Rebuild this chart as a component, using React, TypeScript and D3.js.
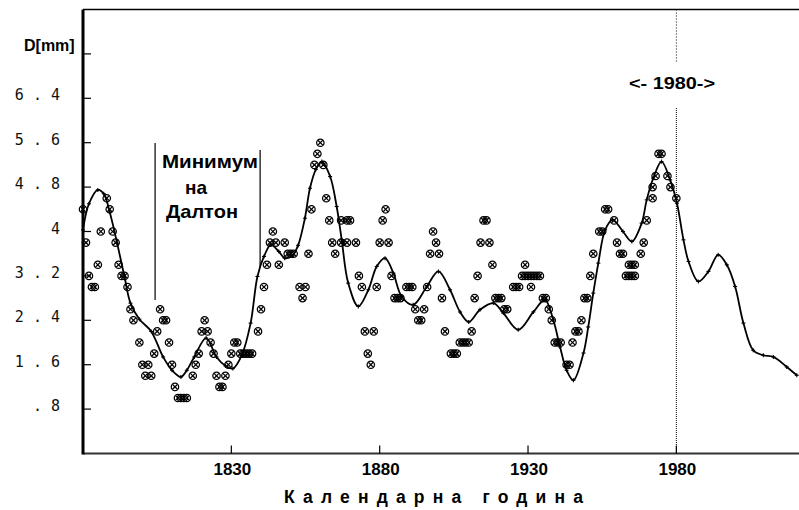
import React from "react";
import * as d3 from "d3";

// ---- data ----
const smoothYears = [1780, 1782, 1785, 1787, 1789, 1791.5, 1794, 1796, 1799, 1803, 1807, 1810, 1813, 1815, 1817.5, 1821.5, 1825, 1828, 1830.5, 1833.5, 1836.5, 1838.8, 1841, 1843.3, 1846, 1848, 1850.5, 1852.5, 1854.8, 1856.5, 1858.5, 1860.5, 1863.3, 1865.5, 1867.2, 1869.4, 1872.8, 1876.2, 1879, 1881.8, 1884.6, 1887.4, 1891.3, 1895.8, 1899.8, 1903.7, 1907.1, 1910, 1913.8, 1918.3, 1921.7, 1926.7, 1931.8, 1935.7, 1938.5, 1940.8, 1943, 1945.3, 1948.7, 1950.3, 1952, 1953.7, 1956, 1958.5, 1962, 1965, 1968.3, 1970, 1972.2, 1975, 1977.9, 1980.2, 1982.4, 1984.1, 1987.4, 1990.8, 1994.1, 1997, 1999.8, 2002.6, 2005.9, 2009.3, 2012.7, 2017.2, 2020.6];
const smoothValues = [4.03, 4.5, 4.75, 4.68, 4.35, 3.79, 3.18, 2.71, 2.42, 2.2, 1.74, 1.5, 1.38, 1.5, 1.74, 2.08, 1.74, 1.58, 1.53, 1.77, 2.35, 3.19, 3.55, 3.76, 3.64, 3.52, 3.56, 3.75, 4.24, 4.78, 5.12, 5.26, 4.99, 4.45, 3.85, 3.07, 2.65, 2.95, 3.37, 3.52, 3.25, 2.83, 2.68, 3.0, 3.28, 2.95, 2.55, 2.37, 2.59, 2.71, 2.53, 2.23, 2.55, 2.77, 2.41, 1.92, 1.5, 1.32, 1.81, 2.28, 2.89, 3.43, 4.03, 4.21, 4.0, 3.82, 4.15, 4.57, 4.96, 5.26, 4.93, 4.51, 3.85, 3.46, 3.1, 3.28, 3.58, 3.4, 3.01, 2.35, 1.86, 1.77, 1.74, 1.56, 1.41];

const dotYears = [1780, 1781, 1782, 1783, 1784, 1785, 1786, 1788, 1789, 1790, 1791, 1792, 1793, 1794, 1795, 1796, 1797, 1799, 1800, 1801, 1802, 1803, 1804, 1805, 1806, 1807, 1808, 1809, 1810, 1811, 1812, 1813, 1814, 1815, 1817, 1818, 1819, 1820, 1821, 1822, 1823, 1824, 1825, 1826, 1827, 1828, 1829, 1830, 1831, 1832, 1833, 1834, 1835, 1836, 1837, 1839, 1840, 1841, 1842, 1843, 1844, 1845, 1846, 1848, 1849, 1850, 1851, 1853, 1854, 1855, 1856, 1857, 1858, 1859, 1860, 1861, 1862, 1863, 1864, 1865, 1867, 1867, 1869, 1869, 1870, 1872, 1873, 1874, 1875, 1876, 1877, 1878, 1879, 1880, 1881, 1882, 1883, 1884, 1885, 1886, 1887, 1889, 1890, 1891, 1892, 1893, 1894, 1895, 1896, 1897, 1898, 1899, 1900, 1901, 1902, 1904, 1905, 1906, 1907, 1908, 1909, 1910, 1911, 1912, 1913, 1914, 1915, 1916, 1917, 1918, 1919, 1920, 1921, 1922, 1923, 1925, 1926, 1927, 1928, 1929, 1929, 1930, 1931, 1931, 1932, 1933, 1934, 1935, 1936, 1937, 1938, 1939, 1940, 1941, 1943, 1944, 1945, 1946, 1947, 1948, 1949, 1950, 1951, 1952, 1954, 1955, 1956, 1957, 1959, 1960, 1961, 1962, 1963, 1964, 1964, 1965, 1965, 1966, 1966, 1968, 1969, 1970, 1972, 1972, 1973, 1974, 1975, 1977, 1978, 1980];
const dotValues = [4.4, 3.8, 3.2, 3.0, 3.0, 3.4, 4.0, 4.6, 4.4, 4.0, 3.8, 3.4, 3.2, 3.2, 3.0, 2.6, 2.4, 2.0, 1.6, 1.4, 1.6, 1.4, 1.8, 2.2, 2.6, 2.4, 2.4, 2.0, 1.6, 1.2, 1.0, 1.0, 1.0, 1.0, 1.4, 1.6, 1.8, 2.2, 2.4, 2.2, 2.0, 1.8, 1.4, 1.2, 1.2, 1.4, 1.6, 1.8, 2.0, 2.0, 1.8, 1.8, 1.8, 1.8, 1.8, 2.2, 2.6, 3.0, 3.4, 3.8, 4.0, 3.8, 3.4, 3.8, 3.6, 3.6, 3.6, 3.0, 2.8, 3.0, 3.6, 4.4, 5.2, 5.4, 5.6, 5.2, 4.6, 4.2, 3.8, 3.6, 3.8, 4.2, 3.8, 4.2, 4.2, 3.8, 3.2, 3.0, 2.2, 1.8, 1.6, 2.2, 3.0, 3.8, 4.2, 4.4, 3.8, 3.2, 2.8, 2.8, 2.8, 3.0, 3.0, 3.0, 2.6, 2.4, 2.4, 2.6, 3.0, 3.6, 4.0, 3.8, 3.6, 2.8, 2.2, 1.8, 1.8, 1.8, 2.0, 2.0, 2.0, 2.0, 2.2, 2.8, 3.2, 3.8, 4.2, 4.2, 3.8, 3.4, 2.8, 2.8, 2.8, 2.6, 2.6, 3.0, 3.0, 3.0, 3.2, 3.2, 3.4, 3.2, 3.2, 3.0, 3.2, 3.2, 3.2, 2.8, 2.8, 2.6, 2.4, 2.0, 2.0, 2.0, 1.6, 1.6, 2.0, 2.2, 2.2, 2.4, 2.8, 2.8, 3.2, 3.6, 4.0, 4.0, 4.4, 4.4, 4.2, 3.8, 3.6, 3.6, 3.2, 3.2, 3.4, 3.2, 3.4, 3.2, 3.4, 3.6, 3.8, 4.2, 4.6, 4.8, 5.0, 5.4, 5.4, 5.0, 4.8, 4.6];

const yTicks = [0.8, 1.6, 2.4, 3.2, 4.0, 4.8, 5.6, 6.4, 7.2];
const yTickLabels = [". 8", "1 . 6", "2 . 4", "3 . 2", "4", "4 . 8", "5 . 6", "6 . 4", ""];
const xTicks = [1830, 1880, 1930, 1980];
const xTickLabels = ["1830", "1880", "1930", "1980"];

const yLabel = "D[mm]";
const xLabel = "Календарна година";
const markerYear = 1980;
const markerLabel = "<- 1980->";
const daltonStart = 1804.3;
const daltonEnd = 1839.7;
const daltonLines = ["Минимум", "на", "Далтон"];

// ---- layout ----
const W = 799, H = 510;
const L = 83, R = 798, T = 9.5, B = 453.5;

export default function App() {
  const x = d3.scaleLinear().domain([1780, 2021]).range([L, R]);
  const y = d3.scaleLinear().domain([0, 8]).range([B, T]);

  const smooth = smoothYears.map((yr, i) => [yr, smoothValues[i]] as [number, number]);
  const line = d3
    .line<[number, number]>()
    .x((d) => x(d[0]))
    .y((d) => y(d[1]))
    .curve(d3.curveCatmullRom.alpha(0.5));

  const dots = dotYears.map((yr, i) => ({ yr, v: dotValues[i] }));
  const r = 3.7;
  const k = 2.4;
  const sans = "'Liberation Sans', Arial, sans-serif";

  return (
    <svg
      width={W}
      height={H}
      viewBox={`0 0 ${W} ${H}`}
      style={{ position: "absolute", left: 0, top: 0, background: "#fff" }}
    >
      <rect x={0} y={0} width={W} height={H} fill="#fff" />

      {/* frame */}
      <line x1={L} x2={W} y1={T} y2={T} stroke="#000" strokeWidth={1.6} />
      <line x1={L} x2={W} y1={B} y2={B} stroke="#333" strokeWidth={2} />
      <line x1={L} x2={L} y1={T} y2={B + 1} stroke="#000" strokeWidth={3} />

      {/* y ticks */}
      {yTicks.map((t, i) => (
        <g key={"yt" + i}>
          <line x1={L} x2={L + 8} y1={y(t)} y2={y(t)} stroke="#000" strokeWidth={1.2} />
          <text
            x={60}
            y={y(t) + 2}
            textAnchor="end"
            fontFamily="'DejaVu Sans Mono', monospace"
            fontSize={15}
            fill="#111"
            style={{ whiteSpace: "pre" }}
          >
            {yTickLabels[i]}
          </text>
        </g>
      ))}
      <text x={24} y={51} fontFamily={sans} fontWeight="bold" fontSize={16} fill="#000">
        {yLabel}
      </text>

      {/* x ticks */}
      {xTicks.map((t, i) => (
        <g key={"xt" + i}>
          <line x1={x(t)} x2={x(t)} y1={B} y2={B - 8} stroke="#000" strokeWidth={1.2} />
          <text
            x={x(t) + 1}
            y={475}
            textAnchor="middle"
            fontFamily={sans}
            fontWeight="bold"
            fontSize={17}
            fill="#000"
          >
            {xTickLabels[i]}
          </text>
        </g>
      ))}
      <text
        x={284}
        y={503}
        fontFamily={sans}
        fontWeight="bold"
        fontSize={17.5}
        textLength={299}
        lengthAdjust="spacing"
        fill="#000"
      >
        {xLabel}
      </text>

      {/* 1980 marker */}
      <line x1={x(markerYear)} x2={x(markerYear)} y1={T} y2={62} stroke="#000" strokeWidth={1} strokeDasharray="1,2" />
      <line x1={x(markerYear)} x2={x(markerYear)} y1={108} y2={B} stroke="#000" strokeWidth={1} strokeDasharray="1,1" />
      <text
        x={629}
        y={89}
        fontFamily={sans}
        fontWeight="bold"
        fontSize={16}
        textLength={86}
        lengthAdjust="spacingAndGlyphs"
        fill="#000"
      >
        {markerLabel}
      </text>

      {/* Dalton minimum */}
      <line x1={x(daltonStart)} x2={x(daltonStart)} y1={143} y2={300} stroke="#000" strokeWidth={1.2} />
      <line x1={x(daltonEnd)} x2={x(daltonEnd)} y1={150} y2={268} stroke="#000" strokeWidth={1.2} />
      <text x={162} y={168} fontFamily={sans} fontWeight="bold" fontSize={19} textLength={96} lengthAdjust="spacingAndGlyphs" fill="#000">
        {daltonLines[0]}
      </text>
      <text x={185} y={194} fontFamily={sans} fontWeight="bold" fontSize={19} textLength={22} lengthAdjust="spacingAndGlyphs" fill="#000">
        {daltonLines[1]}
      </text>
      <text x={166} y={218} fontFamily={sans} fontWeight="bold" fontSize={19} textLength={72} lengthAdjust="spacingAndGlyphs" fill="#000">
        {daltonLines[2]}
      </text>

      {/* dots */}
      {dots.map((d, i) => {
        const cx = x(d.yr);
        const cy = y(d.v);
        return (
          <g key={"d" + i} stroke="#000" strokeWidth={1.25} fill="none">
            <circle cx={cx} cy={cy} r={r} />
            <line x1={cx - k} y1={cy - k} x2={cx + k} y2={cy + k} />
            <line x1={cx - k} y1={cy + k} x2={cx + k} y2={cy - k} />
          </g>
        );
      })}

      {/* smoothed curve */}
      <path d={line(smooth) || ""} fill="none" stroke="#000" strokeWidth={1.8} />
      {smooth.map((d, i) => (
        <g key={"m" + i} stroke="#000" strokeWidth={1.1}>
          <line x1={x(d[0]) - 2} x2={x(d[0]) + 2} y1={y(d[1])} y2={y(d[1])} />
          <line x1={x(d[0])} x2={x(d[0])} y1={y(d[1]) - 2} y2={y(d[1]) + 2} />
        </g>
      ))}
    </svg>
  );
}
